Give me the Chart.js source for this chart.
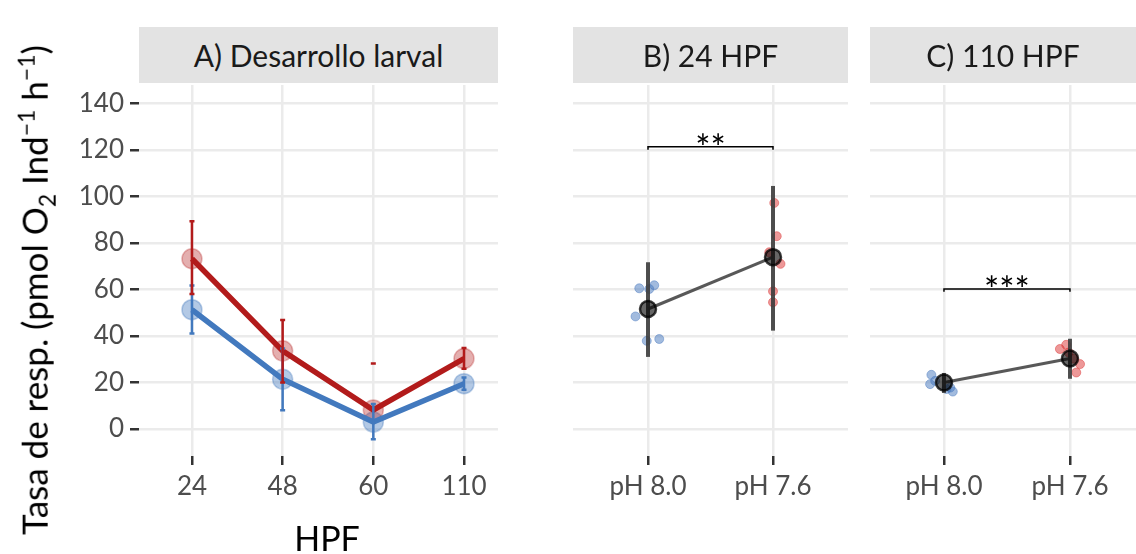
<!DOCTYPE html>
<html>
<head>
<meta charset="utf-8">
<script src="https://cdn.jsdelivr.net/npm/chart.js@4"></script>
<style>
  body { margin: 0; background: #fff; }
  #wrap { position: relative; width: 1136px; height: 554px; overflow: hidden; font-family: Lato, sans-serif; }
  canvas { position: absolute; left: 0; top: 0; }
  .strip { position: absolute; top: 27px; height: 56px; background: #e3e3e3; color: #1a1a1a;
           font-size: 30px; line-height: 56px; text-align: center; }
  #ytitle { position: absolute; left: 36px; top: 290px; transform: translate(-50%, -50%) rotate(-90deg);
            white-space: nowrap; font-size: 35px; color: #000; }
  #ytitle sub, #ytitle sup { font-size: 23px; }
  #xtitle { position: absolute; left: 327px; top: 537px; transform: translate(-50%, -50%);
            font-size: 34px; color: #000; }
</style>
</head>
<body>
<div id="wrap">
  <canvas id="chartA" width="1200" height="554"></canvas>
  <canvas id="chartB" width="1200" height="554"></canvas>
  <canvas id="chartC" width="1200" height="554"></canvas>
  <div class="strip" style="left:139px;width:359px;">A) Desarrollo larval</div>
  <div class="strip" style="left:573px;width:275px;">B) 24 HPF</div>
  <div class="strip" style="left:870px;width:266px;">C) 110 HPF</div>
  <div id="ytitle">Tasa de resp. (pmol O<sub>2</sub> Ind<sup>−1</sup> h<sup>−1</sup>)</div>
  <div id="xtitle">HPF</div>
</div>
<script>
// panel A: development series
const hpfLabels = ['24', '48', '60', '110'];
const meanPH80 = [51.3, 21.4, 3.0, 19.5];
const lowPH80 = [41.1, 8.1, -4.4, 16.9];
const highPH80 = [61.7, 34.6, 10.8, 22.1];
const meanPH76 = [73.2, 33.6, 8.2, 30.3];
const lowPH76 = [58.1, 20.0, 28.2, 25.9];
const highPH76 = [89.3, 46.9, 28.2, 34.8];

// panels B and C
const phLabels = ['pH 8.0', 'pH 7.6'];
const yTicks = [0, 20, 40, 60, 80, 100, 120, 140];

const b24Mean = [51.6, 73.9];
const b24Low = [31.0, 42.3];
const b24High = [71.7, 104.5];
const b24JitterX80 = [0.93, 1.01, 1.05, 0.90, 0.99, 1.09];
const b24JitterY80 = [60.5, 60.2, 61.8, 48.4, 37.9, 38.7];
const b24JitterX76 = [2.01, 2.03, 1.97, 2.06, 2.00, 2.00];
const b24JitterY76 = [97.2, 82.9, 76.0, 71.0, 59.2, 54.5];
const b24Sig = '**';
const b24SigY = 121.3;

const c110Mean = [20.0, 30.3];
const c110Low = [15.5, 21.6];
const c110High = [24.1, 38.8];
const c110JitterX80 = [0.90, 0.89, 1.05, 1.07, 0.93, 1.02];
const c110JitterY80 = [23.3, 19.3, 17.8, 16.1, 20.7, 17.2];
const c110JitterX76 = [1.92, 1.97, 2.08, 2.05, 1.99, 2.03];
const c110JitterY76 = [34.4, 36.2, 27.9, 24.3, 32.9, 30.2];
const c110Sig = '***';
const c110SigY = 60.2;

const FONT = 'Lato';
const BLUE = 'rgb(66, 121, 190)';
const RED = 'rgb(178, 27, 27)';
const GRID = '#ebebeb';
const Y_MIN = -11.6;
const Y_MAX = 147.9;

Chart.defaults.font.family = FONT;
Chart.defaults.animation = false;

function pts(xs, ys) {
  return ys.map((y, i) => ({ x: xs[i], y: y }));
}

// draws vertical error bars from the scales
const errorBars = {
  id: 'errorBars',
  afterDatasetDraw(chart, args, opts) {
    if (args.index !== opts.afterIndex) return;
    const ctx = chart.ctx;
    const xs = chart.scales.x, ys = chart.scales.y;
    ctx.save();
    opts.bars.forEach(b => {
      ctx.strokeStyle = b.color;
      ctx.lineWidth = b.width;
      ctx.lineCap = 'butt';
      b.x.forEach((xv, i) => {
        const px = xs.getPixelForValue(xv);
        const top = ys.getPixelForValue(b.high[i]);
        const bot = ys.getPixelForValue(b.low[i]);
        ctx.beginPath();
        ctx.moveTo(px, top);
        ctx.lineTo(px, bot);
        if (b.cap) {
          ctx.moveTo(px - b.cap, top);
          ctx.lineTo(px + b.cap, top);
          ctx.moveTo(px - b.cap, bot);
          ctx.lineTo(px + b.cap, bot);
        }
        ctx.stroke();
      });
    });
    ctx.restore();
  }
};

// significance label above the bracket
const sigLabel = {
  id: 'sigLabel',
  afterDatasetsDraw(chart, args, opts) {
    if (!opts.text) return;
    const ctx = chart.ctx;
    const px = chart.scales.x.getPixelForValue(1.5);
    const py = chart.scales.y.getPixelForValue(opts.y);
    ctx.save();
    ctx.fillStyle = '#000';
    ctx.font = '36px ' + FONT;
    ctx.textAlign = 'center';
    ctx.textBaseline = 'alphabetic';
    ctx.fillText(opts.text, px, py + 14);
    ctx.restore();
  }
};

function yScale(showTicks) {
  return {
    type: 'linear',
    min: Y_MIN,
    max: Y_MAX,
    afterBuildTicks: s => { s.ticks = yTicks.map(v => ({ value: v })); },
    afterFit: s => { s.width = showTicks ? 80 : 0; },
    border: { display: false },
    grid: { color: GRID, lineWidth: 2.5, drawTicks: showTicks, tickLength: 9, tickColor: '#333', tickWidth: 2.5 },
    ticks: { display: showTicks, color: '#4d4d4d', font: { size: 26 }, padding: 6 }
  };
}

function xScale(min, max, labels) {
  return {
    type: 'linear',
    min: min,
    max: max,
    afterBuildTicks: s => { s.ticks = labels.map((l, i) => ({ value: i + 1 })); },
    afterFit: s => { s.height = 98; },
    border: { display: false },
    grid: { color: GRID, lineWidth: 2.5, tickLength: 9, tickColor: '#333', tickWidth: 2.5 },
    ticks: { color: '#4d4d4d', font: { size: 26 }, padding: 6, maxRotation: 0,
             callback: v => labels[v - 1] }
  };
}

function baseOptions(padding, xs, ys, plugins) {
  return {
    responsive: false,
    animation: false,
    layout: { padding: padding },
    scales: { x: xs, y: ys },
    plugins: Object.assign({ legend: { display: false }, tooltip: { enabled: false } }, plugins)
  };
}

// Panel A
const xsA = hpfLabels.map((l, i) => i + 1);
new Chart(document.getElementById('chartA'), {
  type: 'line',
  data: {
    datasets: [
      { data: pts(xsA, meanPH76), borderColor: RED, borderWidth: 5.5, pointRadius: 0, tension: 0 },
      { data: pts(xsA, meanPH80), borderColor: BLUE, borderWidth: 5.5, pointRadius: 0, tension: 0 },
      { data: pts(xsA, meanPH76), showLine: false, pointRadius: 10, pointBackgroundColor: 'rgba(178, 27, 27, 0.35)',
        pointBorderColor: 'rgba(178, 27, 27, 0.3)', pointBorderWidth: 1.5 },
      { data: pts(xsA, meanPH80), showLine: false, pointRadius: 10, pointBackgroundColor: 'rgba(66, 121, 190, 0.4)',
        pointBorderColor: 'rgba(66, 121, 190, 0.35)', pointBorderWidth: 1.5 }
    ]
  },
  options: baseOptions({ left: 59, right: 702, top: 85, bottom: 0 },
    xScale(0.416, 4.375, hpfLabels), yScale(true),
    { errorBars: { afterIndex: 0, bars: [
        { x: xsA, low: lowPH80, high: highPH80, color: BLUE, width: 2.5, cap: 2.5 },
        { x: xsA, low: lowPH76, high: highPH76, color: RED, width: 2.5, cap: 2.5 }
      ] }, sigLabel: {} }),
  plugins: [errorBars, sigLabel]
});

function phPanel(id, padding, xmin, xmax, mean, low, high, jx80, jy80, jx76, jy76, sig, sigY) {
  new Chart(document.getElementById(id), {
    type: 'line',
    data: {
      datasets: [
        { data: pts([1, 2], mean), borderColor: 'rgba(70, 70, 70, 0.9)', borderWidth: 3, pointRadius: 8,
          pointBackgroundColor: 'rgba(0, 0, 0, 0.6)', pointBorderColor: 'rgba(0, 0, 0, 0.75)', pointBorderWidth: 2.5 },
        { data: pts(jx80, jy80), showLine: false, pointRadius: 4.5, pointBorderWidth: 1,
          pointBackgroundColor: 'rgba(70, 120, 190, 0.5)', pointBorderColor: 'rgba(70, 120, 190, 0.45)' },
        { data: pts(jx76, jy76), showLine: false, pointRadius: 4.5, pointBorderWidth: 1,
          pointBackgroundColor: 'rgba(220, 50, 50, 0.5)', pointBorderColor: 'rgba(220, 50, 50, 0.45)' },
        { data: [{ x: 1, y: sigY - 1.2 }, { x: 1, y: sigY }, { x: 2, y: sigY }, { x: 2, y: sigY - 1.2 }],
          borderColor: '#000', borderWidth: 1.5, pointRadius: 0, tension: 0 }
      ]
    },
    options: baseOptions(padding, xScale(xmin, xmax, phLabels), yScale(false),
      { errorBars: { afterIndex: 1, bars: [
          { x: [1, 2], low: low, high: high, color: 'rgba(60, 60, 60, 0.9)', width: 4, cap: 0 }
        ] }, sigLabel: { text: sig, y: sigY } }),
    plugins: [errorBars, sigLabel]
  });
}

phPanel('chartB', { left: 573, right: 352, top: 85, bottom: 0 }, 0.4, 2.6,
  b24Mean, b24Low, b24High, b24JitterX80, b24JitterY80, b24JitterX76, b24JitterY76, b24Sig, b24SigY);
phPanel('chartC', { left: 870, right: 64, top: 85, bottom: 0 }, 0.413, 2.524,
  c110Mean, c110Low, c110High, c110JitterX80, c110JitterY80, c110JitterX76, c110JitterY76, c110Sig, c110SigY);
</script>
</body>
</html>
